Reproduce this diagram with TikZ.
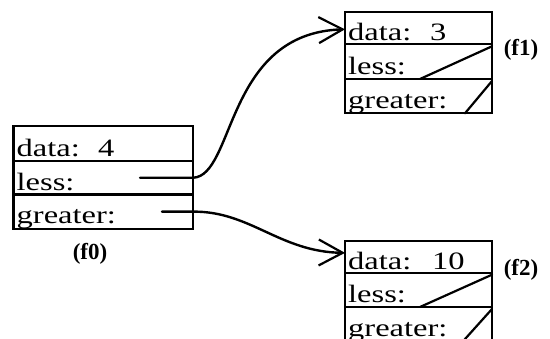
\documentclass[tikz,border=0pt]{standalone}
\usepackage{fontspec}
\usepackage{graphicx}
\setmainfont{Liberation Serif}
\usetikzlibrary{arrows.meta}
% record field text: a wide serif
\newcommand{\widetext}[1]{\scalebox{1.3}[1]{#1}}
\begin{document}
\begin{tikzpicture}[x=1pt, y=-1pt,
  cell/.style={draw, line width=2.1pt, rectangle, inner sep=0pt, outer sep=0pt,
               anchor=north west, minimum height=34.3pt},
  wide/.style={cell, minimum width=179.5pt},
  narrow/.style={cell, minimum width=147pt},
  field/.style={anchor=base west, inner sep=0pt, font=\fontsize{25}{25}\selectfont},
  tag/.style={inner sep=0pt, font=\bfseries\fontsize{23}{23}\selectfont},
  ptr/.style={line width=2.4pt, line cap=round, line join=round},
  slash/.style={line width=2.2pt, line cap=round},
  tip/.style={-{Straight Barb[length=24pt, width=26pt, line width=2.2pt]}}
]
\useasboundingbox (0,0) rectangle (550,339);

% record f0
\node[wide, minimum height=35pt] (f0d) at (13.5,126) {};
\node[wide, minimum height=33.5pt] (f0l) at (f0d.south west) {};
\node[wide] (f0g) at (f0l.south west) {};
\node[field] (f0dt) at ([xshift=3pt, yshift=4pt]f0d.south west) {\widetext{data:}};
\node[field] (f0dv) at ([xshift=84.5pt, yshift=4pt]f0d.south west) {\widetext{4}};
\node[field] (f0lt) at ([xshift=3pt, yshift=4pt]f0l.south west) {\widetext{less:}};
\node[field] (f0gt) at ([xshift=3pt, yshift=5pt]f0g.south west) {\widetext{greater:}};
\node[tag] (f0tag) at (90,254) {(f0)};

% record f1
\node[narrow, minimum height=32pt] (f1d) at (345,12.3) {};
\node[narrow, minimum height=34.7pt] (f1l) at (f1d.south west) {};
\node[narrow] (f1g) at (f1l.south west) {};
\node[field] (f1dt) at ([xshift=3pt, yshift=3.5pt]f1d.south west) {\widetext{data:}};
\node[field] (f1dv) at ([xshift=85pt, yshift=3.5pt]f1d.south west) {\widetext{3}};
\node[field] (f1lt) at ([xshift=3pt, yshift=4pt]f1l.south west) {\widetext{less:}};
\node[field] (f1gt) at ([xshift=3pt, yshift=5pt]f1g.south west) {\widetext{greater:}};
\node[tag] (f1tag) at (521,50) {(f1)};
\draw[slash] ([xshift=75pt]f1l.south west) -- ([yshift=-2pt]f1l.north east);
\draw[slash] ([xshift=120pt]f1g.south west) -- ([yshift=-2pt]f1g.north east);

% record f2
\node[narrow, minimum height=31.7pt] (f2d) at (345,241) {};
\node[narrow, minimum height=34.3pt] (f2l) at (f2d.south west) {};
\node[narrow] (f2g) at (f2l.south west) {};
\node[field] (f2dt) at ([xshift=3pt, yshift=3.5pt]f2d.south west) {\widetext{data:}};
\node[field] (f2dv) at ([xshift=87pt, yshift=3.5pt]f2d.south west) {\widetext{10}};
\node[field] (f2lt) at ([xshift=3pt, yshift=4pt]f2l.south west) {\widetext{less:}};
\node[field] (f2gt) at ([xshift=3pt, yshift=5pt]f2g.south west) {\widetext{greater:}};
\node[tag] (f2tag) at (521,270) {(f2)};
\draw[slash] ([xshift=75pt]f2l.south west) -- ([yshift=-2pt]f2l.north east);
\draw[slash] ([xshift=118pt]f2g.south west) -- ([yshift=-2pt]f2g.north east);

% pointers from f0
\draw[ptr, tip] ([xshift=-53pt]f0l.east) -- (f0l.east)
  .. controls (235,176) and (225,33) .. ([yshift=-1pt]f1d.west);
\draw[ptr, tip] ([xshift=-31pt]f0g.east) -- (f0g.east)
  .. controls (250,211) and (280,252) .. ([yshift=4pt]f2d.west);
\end{tikzpicture}
\end{document}
